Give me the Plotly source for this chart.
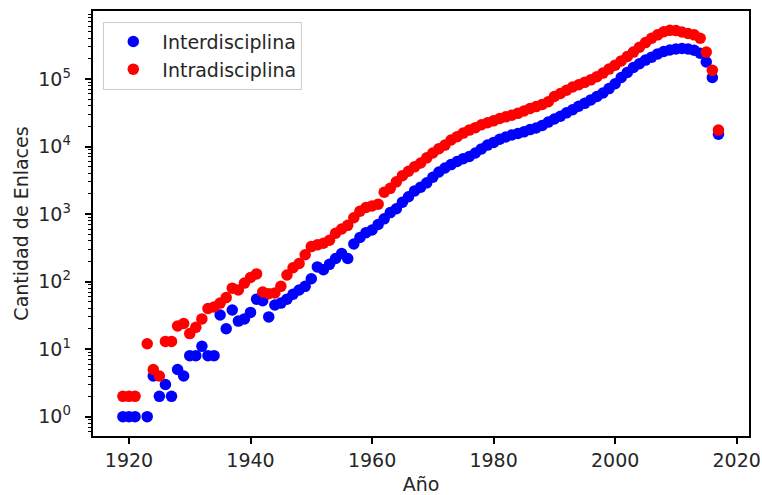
import plotly.graph_objects as go

years = list(range(1919, 2018))

inter = [1, 1, 1, None, 1, 4, 2, 3, 2, 5,
         4, 8, 8, 11, 8, 8, 32, 20, 38, 26,
         28, 35, 55, 52, 30, 45, 48, 55, 65, 75,
         85, 110, 165, 150, 180, 220, 260, 220, 360, 450,
         530, 580, 700, 850, 1050, 1200, 1500, 1800, 2200, 2500,
         2900, 3500, 4200, 4800, 5400, 6000, 6600, 7100, 8000, 9200,
         10500, 11500, 12800, 13800, 14800, 15600, 16500, 17800, 18800, 20500,
         23000, 25500, 28000, 31500, 35000, 39500, 43500, 49000, 55000, 62000,
         72000, 85000, 105000, 125000, 148000, 168000, 190000, 210000, 235000, 255000,
         268000, 278000, 282000, 278000, 266000, 240000, 178000, 105000, 15200]

intra = [2, 2, 2, None, 12, 5, 4, 13, 13, 22,
         24, 17, 21, 28, 40, 42, 48, 58, 80, 75,
         95, 115, 130, 70, 66, 68, 85, 125, 160, 185,
         250, 330, 350, 370, 410, 520, 600, 680, 880, 1100,
         1250, 1320, 1400, 2100, 2400, 3000, 3700, 4300, 5000, 5700,
         6800, 8000, 9300, 10500, 12500, 14000, 15800, 17500, 19000, 21000,
         22500, 24000, 26000, 27500, 29000, 31000, 33500, 36500, 39000, 42000,
         46000, 55000, 61000, 68000, 76000, 82000, 89000, 97000, 108000, 122000,
         140000, 160000, 185000, 215000, 250000, 295000, 345000, 400000, 450000, 500000,
         525000, 520000, 495000, 470000, 450000, 400000, 250000, 134000, 17500]

x_ticks = [1920, 1940, 1960, 1980, 2000, 2020]
y_ticks = [1, 10, 100, 1000, 10000, 100000]
y_ticktext = ["10<sup>0</sup>", "10<sup>1</sup>", "10<sup>2</sup>",
              "10<sup>3</sup>", "10<sup>4</sup>", "10<sup>5</sup>"]

minor_vals = [m * 10 ** e for e in range(-1, 6) for m in range(2, 10)]

FONT = "DejaVu Sans"
TXT = "#262626"
FS = 19

fig = go.Figure()
fig.add_trace(go.Scatter(x=years, y=inter, mode="markers", name="Interdisciplina",
                         marker=dict(color="#0000ff", size=11.5, line=dict(width=0))))
fig.add_trace(go.Scatter(x=years, y=intra, mode="markers", name="Intradisciplina",
                         marker=dict(color="#ff0000", size=11.5, line=dict(width=0))))

fig.update_layout(
    width=762, height=495,
    margin=dict(l=93, r=13, t=11, b=59),
    paper_bgcolor="white", plot_bgcolor="white",
    font=dict(family=FONT, size=FS, color=TXT),
    showlegend=True,
    legend=dict(x=0.0157, y=0.975, xanchor="left", yanchor="top",
                bgcolor="rgba(255,255,255,0.8)", bordercolor="#cccccc", borderwidth=1,
                font=dict(family=FONT, size=FS, color=TXT), itemwidth=48),
)
fig.update_xaxes(
    range=[1914.08, 2022.03], tickvals=x_ticks, automargin=False,
    showline=True, linecolor="black", linewidth=1.5, mirror=True,
    ticks="outside", ticklen=6.5, tickwidth=1.5, tickcolor="black",
    showgrid=False, zeroline=False,
    title=dict(text="Año", font=dict(family=FONT, size=FS, color=TXT), standoff=10),
    tickfont=dict(family=FONT, size=FS, color=TXT),
)
fig.update_yaxes(
    type="log", range=[-0.286, 6.006], tickvals=y_ticks, ticktext=y_ticktext,
    automargin=False,
    showline=True, linecolor="black", linewidth=1.5, mirror=True,
    ticks="outside", ticklen=6.5, tickwidth=1.5, tickcolor="black",
    ticklabelstandoff=10,
    showgrid=False, zeroline=False,
    minor=dict(tickvals=minor_vals, ticks="outside", ticklen=3.7, tickwidth=1.1,
               tickcolor="black", showgrid=False),
    title=dict(text="Cantidad de Enlaces", font=dict(family=FONT, size=FS, color=TXT), standoff=5),
    tickfont=dict(family=FONT, size=FS, color=TXT),
)

fig.write_html("out.html")
